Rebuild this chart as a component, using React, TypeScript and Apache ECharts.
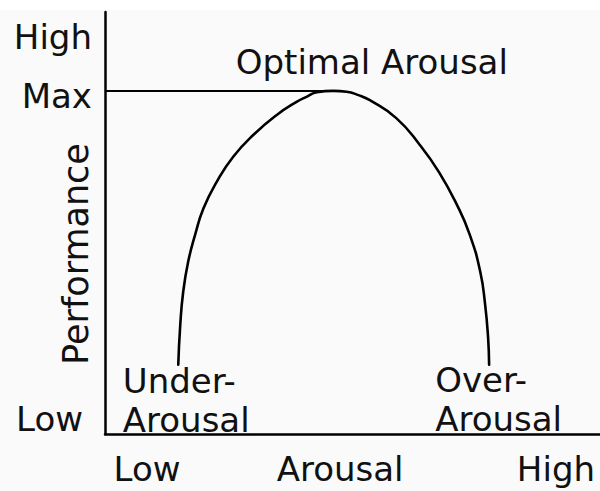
import React, { useEffect, useRef } from "react";
import * as echarts from "echarts";

// Curve (arousal vs performance), in 0-100 axis units
const curveX = [14.8, 15.2, 15.8, 16.8, 18.2, 19.9, 22.6, 25.9, 30.0, 34.7, 38.7, 40.7, 42.8, 46.1, 48.8, 51.2, 53.5, 58.9, 63.6, 67.5, 71.1, 73.7, 75.8, 76.8, 77.4, 77.6];
const curveY = [16.4, 25.8, 33.7, 40.8, 47.2, 53.5, 59.8, 65.7, 70.9, 75.6, 78.7, 79.9, 81.0, 81.3, 81.1, 80.3, 79.1, 74.8, 68.5, 62.0, 54.3, 47.2, 38.5, 30.6, 22.7, 16.4];

// Max performance reference line
const maxLineX = [0, 46.1];
const maxLineY = [81.3, 81.3];

// Tick labels
const yTickValues = [3.6, 80, 94.1];
const yTickLabels = ["Low", "Max", "High"];
const xTickValues = [8.5, 47.5, 91.1];
const xTickLabels = ["Low", "Arousal", "High"];
const yAxisTitle = "Performance";

// Annotations
const annoText = ["Optimal Arousal", "Under-\nArousal", "Over-\nArousal"];
const annoX = [53.9, 3.6, 66.7];
const annoY = [88.2, 7.9, 8.2];
const annoPos = ["inside", "right", "right"];

const FONT = "DejaVu Sans";
const TXT = "#111";

function nearestIdx(vals: number[], v: number) {
  let bi = 0;
  for (let i = 1; i < vals.length; i++) if (Math.abs(vals[i] - v) < Math.abs(vals[bi] - v)) bi = i;
  return bi;
}

export default function App() {
  const ref = useRef<HTMLDivElement>(null);
  useEffect(() => {
    if (!ref.current) return;
    const chart = echarts.init(ref.current, undefined, { renderer: "svg" });
    chart.setOption({
      animation: false,
      backgroundColor: "#fafafa",
      grid: { left: 105, right: 0, top: 12, bottom: 57, outerBoundsMode: "none" },
      graphic: [
        { type: "rect", left: 0, top: 0, shape: { width: 600, height: 10 }, style: { fill: "#ffffff" }, z: -1 },
        {
          type: "text",
          x: 76,
          y: 254,
          rotation: Math.PI / 2,
          style: { text: yAxisTitle, fill: TXT, font: `35px "${FONT}"`, align: "center", verticalAlign: "middle" },
        },
      ],
      xAxis: {
        type: "value",
        min: 0,
        max: 100,
        splitLine: { show: false },
        axisTick: { show: false },
        axisLine: { show: true, lineStyle: { color: "#000", width: 2.5 } },
        axisLabel: {
          customValues: xTickValues,
          formatter: (v: number) => xTickLabels[nearestIdx(xTickValues, v)],
          margin: 18,
          color: TXT,
          fontFamily: FONT,
          fontSize: 34,
        },
      },
      yAxis: {
        type: "value",
        min: 0,
        max: 100,
        splitLine: { show: false },
        axisTick: { show: false },
        axisLine: { show: true, lineStyle: { color: "#000", width: 2.5 } },
        axisLabel: {
          customValues: yTickValues,
          formatter: (v: number) => {
            const i = nearestIdx(yTickValues, v);
            return i === 0 ? `{low|${yTickLabels[i]}}` : yTickLabels[i];
          },
          margin: 13,
          color: TXT,
          fontFamily: FONT,
          fontSize: 34,
          rich: { low: { padding: [0, 9, 0, 0], color: TXT, fontFamily: FONT, fontSize: 34 } },
        },
      },
      series: [
        {
          type: "line",
          data: curveX.map((x, i) => [x, curveY[i]]),
          smooth: 0.5,
          symbol: "none",
          lineStyle: { color: "#000", width: 2.6, cap: "round", join: "round" },
        },
        {
          type: "line",
          data: maxLineX.map((x, i) => [x, maxLineY[i]]),
          symbol: "none",
          lineStyle: { color: "#000", width: 2 },
        },
        {
          type: "scatter",
          symbolSize: 0,
          itemStyle: { opacity: 1 },
          data: annoText.map((t, i) => ({
            value: [annoX[i], annoY[i]],
            label: {
              show: true,
              formatter: t,
              position: annoPos[i],
              distance: 0,
              align: annoPos[i] === "inside" ? "center" : "left",
              color: TXT,
              opacity: 1,
              fontFamily: FONT,
              fontSize: 34,
              lineHeight: 39,
            },
          })),
        },
      ],
    });
    return () => chart.dispose();
  }, []);
  return <div ref={ref} style={{ position: "absolute", left: 0, top: 0, width: 600, height: 491 }} />;
}
